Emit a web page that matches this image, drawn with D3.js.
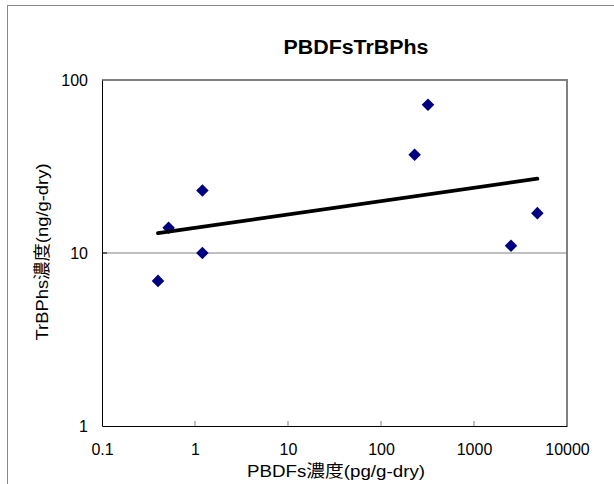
<!DOCTYPE html>
<html><head><meta charset="utf-8">
<script src="https://cdn.jsdelivr.net/npm/d3@7"></script>
<style>body{margin:0;background:#fff}svg{display:block}text{font-family:"Liberation Sans",Arial,"Noto Sans CJK JP",sans-serif}</style>
</head><body><svg id="c" width="614" height="484"></svg>
<script>
const title = "PBDFsTrBPhs";
const xTitle = "PBDFs濃度(pg/g-dry)";
const yTitle = "TrBPhs濃度(ng/g-dry)";
const pbdfs = [0.40, 0.52, 1.2, 1.2, 230, 320, 2500, 4800];
const trbphs = [6.9, 14, 23, 10, 37, 72, 11, 17];
const xTicks = [0.1, 1, 10, 100, 1000, 10000];
const yTicks = [1, 10, 100];

const svg = d3.select("#c");
const L = 102, R = 567, T = 80, B = 426;
const x = d3.scaleLog().domain([0.1, 10000]).range([L, R]);
const y = d3.scaleLog().domain([1, 100]).range([B, T]);

// outer chart border
svg.append("rect").attr("x", 7.5).attr("y", 5.5).attr("width", 640).attr("height", 500)
  .attr("fill", "none").attr("stroke", "#888").attr("stroke-width", 1);

// title
svg.append("text").attr("x", 356).attr("y", 54).attr("text-anchor", "middle")
  .attr("font-size", 20).attr("font-weight", "bold")
  .attr("textLength", 145).attr("lengthAdjust", "spacingAndGlyphs").text(title);

// gridline at 10
svg.append("line").attr("x1", L).attr("x2", R).attr("y1", y(10)).attr("y2", y(10))
  .attr("stroke", "#808080").attr("stroke-width", 1);

// plot border (top/right gray)
svg.append("path").attr("d", `M${L},${T}H${R}V${B}`).attr("fill", "none")
  .attr("stroke", "#808080").attr("stroke-width", 2);

// axes
const xAxis = d3.axisBottom(x).tickValues(xTicks).tickSize(0).tickPadding(18)
  .tickFormat(d => String(d));
const gx = svg.append("g").attr("transform", `translate(0,${B})`).call(xAxis);
gx.select(".domain").attr("stroke", "#000");
gx.selectAll("text").attr("font-size", 16).attr("fill", "#000");
const gy = svg.append("g").attr("transform", `translate(${L},0)`)
  .call(d3.axisLeft(y).tickValues(yTicks).tickSize(0).tickPadding(14).tickFormat(d => String(d)));
gy.select(".domain").attr("stroke", "#000");
gy.selectAll("text").attr("font-size", 16).attr("fill", "#000");

// inner tick marks
svg.append("g").selectAll("line").data(xTicks.slice(1, -1)).join("line")
  .attr("x1", d => x(d)).attr("x2", d => x(d)).attr("y1", B).attr("y2", B - 5)
  .attr("stroke", "#808080");
svg.append("g").selectAll("line").data([10]).join("line")
  .attr("x1", L).attr("x2", L + 5).attr("y1", d => y(d)).attr("y2", d => y(d))
  .attr("stroke", "#000");

// axis titles
svg.append("text").attr("x", 336).attr("y", 477).attr("text-anchor", "middle")
  .attr("font-size", 17).attr("textLength", 178).attr("lengthAdjust", "spacingAndGlyphs").text(xTitle);
svg.append("text").attr("transform", `translate(48,252) rotate(-90)`).attr("text-anchor", "middle")
  .attr("font-size", 17).attr("textLength", 177).attr("lengthAdjust", "spacingAndGlyphs").text(yTitle);

// points
const pts = pbdfs.map((v, i) => [v, trbphs[i]]);
svg.append("g").selectAll("path").data(pts).join("path")
  .attr("d", d3.symbol(d3.symbolDiamond2, 100))
  .attr("transform", d => `translate(${x(d[0])},${y(d[1])})`)
  .attr("fill", "#000080");

// power trendline (least squares in log space)
const lx = pbdfs.map(Math.log10), ly = trbphs.map(Math.log10);
const mx = d3.mean(lx), my = d3.mean(ly);
const b = d3.sum(lx.map((v, i) => (v - mx) * (ly[i] - my))) / d3.sum(lx.map(v => (v - mx) ** 2));
const a = my - b * mx;
const ext = d3.extent(pbdfs);
const tl = ext.map(v => [v, Math.pow(10, a + b * Math.log10(v))]);
svg.append("path").datum(tl)
  .attr("d", d3.line().x(d => x(d[0])).y(d => y(d[1])))
  .attr("stroke", "#000").attr("stroke-width", 3.8).attr("stroke-linecap", "round").attr("fill", "none");
</script></body></html>
